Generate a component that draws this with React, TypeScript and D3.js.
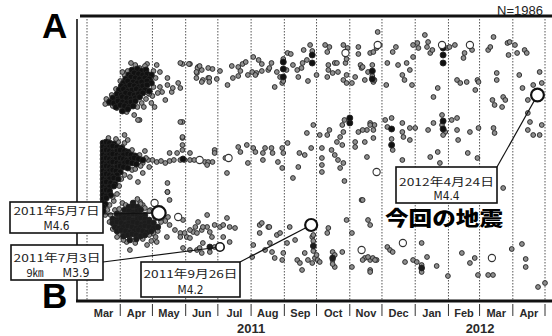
import React from "react";
import * as d3 from "d3";

// ---- data: day offset from 2011-03-01, position along profile B(0) -> A(141) ----
const START = new Date(2011, 2, 1);
const END = new Date(2012, 4, 1);

const topSwarm: number[][] = [
  [42,115.5],[47,116],[51,115],[55,115.5],
  [39,113],[44,114],[48,113.5],[52,113],[56,113.5],[60,113],
  [36,111],[41,112],[45,111.5],[49,111],[54,111.5],[58,111],
  [34,109],[38,110],[43,109.5],[47,109],[51,109.5],[56,110],[60,109],
  [32,107.5],[36,107],[40,108],[44,107.5],[48,107],[52,107.5],[56,108],
  [30,105.5],[34,106],[38,105],[42,105.5],[46,106],[50,105],[54,105.5],[58,105],
  [28,103.5],[32,103],[36,104],[40,103.5],[44,103],[48,103.5],[52,104],
  [24,101.5],[29,101],[33,102],[37,101.5],[41,101],[45,101.5],[49,102],
  [21,99.5],[25,99],[29,100],[33,99.5],[37,99],[41,99.5],[45,100],
  [27,97],[31,98],[35,97.5],[39,97],[43,97.5],
  [33,95],[38,96],
  [183,112],[183,116],[183,119.5],[210,119],[210,123],[266,111],[266,115],[332,119],[332,123],[332,126.5],
];

const topScatter: number[][] = [
  [49,116.5],[56,118.5],[65,118],[68,114.5],[75,111.5],[75,108],[73,100.5],[79,104.5],[80,106.5],[85,109],
  [87,106.5],[63,97],[68,107],[70,104.5],[37,94.5],[49,90.5],[20,99],[24,97.5],[28,96.5],[61,102.5],[59,110.5],[54,117.5],
  [45,118],[38,115],[35,113],[31,110],[27,106],[23,103],[18,101],[17,98.5],[47,97],[51,99],[55,101],[58,103.5],
  [62,107],[64,111.5],[62,115],[57,104],[53,97],[44,93],[41,119],[33,114.5],[29,104],[66,104],[60,99],
  [89,118.5],[96,118.5],[103.5,117],[102.5,114],[107,115.5],[108,110.5],[113,111.5],[89,89.5],[89,81.5],
  [87,119],[95,118.5],[103,116.5],[105,117.5],[102,114.5],[113,116.5],[117,116],[124,115],[102,111.5],[107,109.5],
  [114,111.5],[114,109.5],[121,111],[131,108],[135,117.5],[136,111.5],[141,117],[143,115],[145,118.5],[148,119.5],
  [141,112.5],[150,113],[154,114.5],[155,122],[158,114],[160,120.5],[163,118.5],[163,115],[157,113],[169,115.5],
  [172,119],[170,116.5],[175,107],[177,114.5],[180,112],[182,109],[183,121],[186,115.5],[187,124],[190,123.5],
  [192,118],[196,115.5],[197,112],[200,116.5],[201,119],[202,125.5],[205,120.5],[206,110],[208,128],[214,113],
  [222,128],[224,124.5],[226,127],[225,115.5],[224,112],[225,118],[229,114],[231,119],[233,119],[234,114.5],
  [239,128],[241,119],[243,126.5],[242,113],[239,110.5],[242,109],[247,109],[250,112],[253,127],[255,118],
  [256,116.5],[259,110.5],[264,124],[267,109.5],[270,126.5],[257,117],[262,114.5],[267,124.5],[268,110.5],
  [271,134.5],[273,128],[280,119],[279,108],[285,124.5],[288,127],[290,118],[294,113],[296,110.5],[298,119],
  [301,115.5],[304,128],[304,122],[303,108],[308,129],[309,126.5],[315,133],[317,127],[318,129.5],[320,124],
  [322,125.5],[323,102],[327,106.5],[336,126.5],[338,127],[343,128],[345,110.5],[348,109],[351,121.5],[352,124],
  [354,109.5],[359,125.5],[362,105.5],[364,110.5],[365,109.5],[374,125.5],[376,127],[379,132],[382,114],[382,110.5],
  [388,102],[392,129],[393,123],[394,129.5],[399,128],[401,124],[403,113],[408,125.5],[410,124],[422,114.5],
  [424,109],[411,100.5],[406,106.5],[416,108],[378,100.5],[380,98],[390,100.5],[387,97],
  [183,110],[210,125],[242,121],[253,123.5],[266,118],[266,112.5],
];

const midSwarm: number[][] = [
  [15,79],[18,79.5],[21,79],[25,78.5],
  [15,77],[18,76.5],[21,77],[24,77.5],[28,77],[32,76.5],
  [15,75],[18,75.5],[21,75],[24,74.5],[28,75],[31,75.5],[35,75],[38,74.5],
  [15,73],[18,72.5],[21,73],[24,73.5],[28,73],[31,72.5],[34,73],[38,73.5],[41,73],[45,72.5],
  [15,71],[18,71.5],[21,71],[24,70.5],[27,71],[31,71.5],[34,71],[37,70.5],[41,71],[44,71.5],[48,71],[52,70.5],
  [15,69],[18,68.5],[21,69],[24,69.5],[28,69],[31,68.5],[35,69],[38,69.5],[42,69],[46,68.5],
  [15,67],[18,67.5],[21,67],[24,66.5],[28,67],[31,67.5],[34,67],[38,66.5],
  [15,65],[18,64.5],[21,65],[24,65.5],[27,65],[31,64.5],
  [15,63],[18,63.5],[21,63],[24,62.5],[28,63],
  [15,61],[18,60.5],[21,61],[25,61.5],[29,61],
  [15,59],[18,59.5],[22,59],[26,58.5],
  [15,57],[18,56.5],[21,57],[25,57.5],
  [15,55],[18,55.5],[21,55],
  [15,53],[18,52.5],[22,53],
  [15,51],[18,51.5],[15,49],[17,48.5],[15,47],[15,45],
  [89.5,71],[245,89],[245,91.5],[284,78],[284,86],[332,86],[332,90],
];

const midScatter: number[][] = [
  [35,83],[47.5,90.5],[35,79],[43,73],[37,69],[52,69],[57,70.5],[61,70.5],[65,69.5],[69,70],[73,69],[77,74],[77,70],
  [81,70.5],[84,74],[87,70.5],[91,70.5],[96,70.5],[100,70.5],[89,82],[89,78],[47.5,59.5],[52,64],[75,59],[75,54.5],
  [29,79.5],[33,77],[42,75.5],[49,73],[55,71.5],[50,67.5],[42,65.5],[35,63],[32,61],[30,57.5],[28,53.5],[25,50],
  [21,48],[19,45.5],[17,43],[40,62],[45,66],[38,80.5],[27,81],[20,81.5],[54,75],[58,67],
  [87,89.5],[89,75.5],[96,74],[110,69.5],[113,69.5],[117,69.5],[112,68],[119,75.5],[119,74],[129,71.5],[130.5,64],
  [141,77],[143,74.5],[149,78],[150,69],[155,76.5],[157,74.5],[164,74],[164,70.5],[166,76.5],[172,76.5],[173,74],
  [178,69.5],[182,76.5],[183,74],[182,66.5],[187,79],[192,61.5],[197,67],[198,74],[203,73],[205,84],[209,76.5],
  [217,83],[219,76.5],[219,71.5],[219,68],[219,64.5],[224,83],[226,85.5],[228,75.5],[231,73],[233,79.5],[234,70.5],
  [236,82],[238,78],[238,88],[239,84.5],[239,69],[236,66.5],[240,90.5],[250,79.5],[250,77],[253,84.5],[256,50.5],
  [259,79.5],[261,85.5],[264,89],[267,81.5],[267,85.5],[268,88],[257,85.5],[264,88],[261,72],[278,90.5],[280,87],
  [284,91.5],[285,75.5],[294,89],[294,84.5],[295,82],[301,86.5],[301,80.5],[294,70.5],[306,86.5],[318,85.5],
  [323,89],[331,93],[331,88],[334,84.5],[327,74.5],[320,72],[329,69],[340,90.5],[345,91.5],[345,85.5],[346,80.5],
  [357,84.5],[355,74],[364,71.5],[365,86.5],[379,86.5],[380,84],[411,94],[413,89.5],[411,85.5],[416,83],[422,83],
  [424,88],[388,56.5],[257,50.5],[240,60],[211,88],[284,81],[332,83],
];

const lowSwarm: number[][] = [
  [43,49],[39,47],[43,47.5],[47,47],
  [35,45.5],[39,45],[43,44.5],[47,45],[50,45.5],
  [28,43.5],[32,43],[35,42.5],[39,43],[43,43.5],[47,43],[50,42.5],[54,43],
  [24,41],[28,40.5],[32,41],[35,41.5],[39,41],[43,40.5],[47,41],[50,41.5],[54,41],[58,40.5],
  [24,39],[28,39.5],[32,39],[36,38.5],[39,39],[43,39.5],[47,39],[51,38.5],[54,39],[58,39.5],[62,39],
  [26,37],[30,36.5],[34,37],[38,37.5],[42,37],[46,36.5],[50,37],[54,37.5],[58,37],[62,36.5],[66,37],
  [28,35],[32,35.5],[36,35],[40,34.5],[44,35],[48,35.5],[52,35],[56,34.5],[60,35],
  [34,32.5],[38,33],[42,33.5],[46,33],[50,32.5],[54,33],
  [40,30.5],[46,31],
  [211,27.5],[229,21.5],[312,16.5],[114.5,27],
];

const lowScatter: number[][] = [
  [24,52],[33,49],[49.5,49.5],[52,48],[40,46.5],[59,45.5],[75,54.5],[77,50.5],[75.5,42],[89.5,40.5],[77,38],
  [82,35.5],[87,34],[93,32],[96,31.5],[99,34.5],[102.5,34],[107,35.5],[112,37],[103.5,39.5],[37,29.5],[40,25.5],
  [56,28],[65,29.5],[74.5,32],[102.5,25.5],[108,29],[33.5,34],[70,43],[73,40],
  [26,45.5],[22,43],[21,39.5],[24,36],[30,33],[34,30.5],[52,31],[58,33],[62,34],[66,35],[69,39.5],[64,41.5],
  [58,45],[54,46.5],[50,48.5],[47,51],[36,48],[30,46],[45,29],[28,32],[64,32],[60,30],
  [87,32],[91,34],[96,35.5],[101,37],[108,37],[114.5,34.5],[116.5,32],[124,37],[127,32],[133,37],[133,29.5],
  [138,36.5],[89.5,26.5],[96,25.5],[105,26.5],[107,24],[114.5,24.5],[119,27],[154,22],[155,28],[161,38],[161,34],
  [169,37],[170.5,29],[166,25.5],[172.5,24.5],[175,21.5],[177,33],[180,34],[182,20.5],[183,24],[186.5,29],[189,37],
  [194,30.5],[196,20.5],[198.5,19],[200.5,15.5],[203,24],[206,20.5],[210,19],[210,32],[211,33],[212.5,21.5],
  [214,23],[215,20.5],[217,19.5],[224,34],[225,36.5],[229,24.5],[231,23],[229,20.5],[231,17],[238,24.5],[247,34],
  [247,17],[259,21.5],[264,20.5],[264,15.5],[266.5,21.5],[270,20.5],[112,43],[119,38],[130.5,41.5],[127,38],
  [163,39],[170,37],[242,40.5],[262,40.5],[264,38],[257,20.5],[262,22],[264,14.5],[268.5,20.5],[280,27],
  [282.5,25.5],[285,24.5],[296.5,19.5],[304,20.5],[307.5,19.5],[312,29],[312,18],[317,22],[326,17.5],[336.5,12.5],
  [349.5,24],[357,19],[361.5,21.5],[364.5,13],[374,13],[378.5,13],[396,26],[405.5,28.5],[409,21],[409,17],
  [420.5,7],[427,9],[211,25],[211,30],[229,18.5],[312,14.5],
];

// larger (about M3) events drawn as open circles
const openEvents: number[][] = [
  [105,70.5],[132,71.5],[270,64.5],[63,49],[85,42],[256,25.5],[294.5,29],[377.5,21.5],
  [271,128],[331,128],[357,128],[241,124],
];

// labelled events
const eventDates = ["2011-05-07", "2011-07-03", "2011-09-26", "2012-04-24"];
const eventPos = [44, 27, 38, 103];
const eventMag = [4.6, 3.9, 4.2, 4.4];
const eventLine1 = ["2011年5月7日", "2011年7月3日", "2011年9月26日", "2012年4月24日"];
const eventLine2 = ["M4.6", "M3.9", "M4.2", "M4.4"];
const eventDepth = ["", "9㎞", "", ""];

const yearLabels = ["2011", "2012"];
const totalCount = "N=1986";

// label box layout
const boxes = [
  { x: 10, y: 202, w: 93, h: 31, b1: 214.5, b2: 230, l1: 86, ax: 103, ay: 214 },
  { x: 11, y: 245, w: 92, h: 35, b1: 261.5, b2: 277, l1: 87, ax: 103, ay: 262 },
  { x: 141, y: 262, w: 99, h: 35, b1: 278, b2: 294, l1: 94, ax: 240, ay: 262 },
  { x: 396, y: 167, w: 101, h: 36, b1: 185.5, b2: 199.5, l1: 95, ax: 497, ay: 167 },
];

const dt = (d: number) => new Date(START.getTime() + d * 86400000);
const parse = d3.timeParse("%Y-%m-%d");

export default function App() {
  const x = d3.scaleTime().domain([START, END]).range([87, 545]);
  const y = d3.scaleLinear().domain([0, 141]).range([301, 19]);
  const r = d3.scaleLinear().domain([1.5, 3, 3.9, 4.2, 4.6]).range([2.4, 3.6, 4.2, 6, 6.8]);
  const months = d3.timeMonth.range(START, d3.timeMonth.offset(END, 1));
  const fmt = d3.timeFormat("%b");
  const cjk = "'Noto Sans CJK JP', 'Noto Sans', sans-serif";
  const latin = "'Liberation Sans', Arial, sans-serif";
  const cond = "'DejaVu Sans Condensed', 'DejaVu Sans', sans-serif";

  const dots = (arr: number[][], key: string, fill: string, rad: number) =>
    arr.map(([d, p], i) => (
      <circle key={key + i} cx={x(dt(d))} cy={y(p)} r={rad} fill={fill} stroke="#222" strokeWidth={0.9} />
    ));

  const years = [
    [START, new Date(2012, 0, 1)],
    [new Date(2012, 0, 1), END],
  ];

  return (
    <svg width={552} height={336} style={{ display: "block", position: "absolute", left: 0, top: 0 }}>
      <rect width={552} height={336} fill="#fff" />
      {/* month grid */}
      {months.map((m, i) => (
        <line key={"g" + i} x1={x(m)} x2={x(m)} y1={19} y2={300} stroke="#555" strokeWidth={1} strokeDasharray="1.5,1.5" />
      ))}
      {/* points */}
      {dots(topScatter, "ts", "#8f8f8f", r(1.5))}
      {dots(midScatter, "ms", "#8f8f8f", r(1.5))}
      {dots(lowScatter, "ls", "#8f8f8f", r(1.5))}
      {dots(topSwarm, "tw", "#111", 3)}
      {dots(midSwarm, "mw", "#111", 3)}
      {dots(lowSwarm, "lw", "#1c1c1c", 2.9)}
      {openEvents.map(([d, p], i) => (
        <circle key={"o" + i} cx={x(dt(d))} cy={y(p)} r={r(3)} fill="#fff" stroke="#333" strokeWidth={1.1} />
      ))}
      {/* frame */}
      <line x1={77} x2={77} y1={19} y2={301} stroke="#111" strokeWidth={1.6} />
      <line x1={80} x2={552} y1={16} y2={16} stroke="#111" strokeWidth={3} />
      <line x1={76} x2={552} y1={301} y2={301} stroke="#111" strokeWidth={3} />
      {/* month ticks & labels */}
      {months.slice(1).map((m, i) => (
        <line key={"t" + i} x1={x(m)} x2={x(m)} y1={304} y2={316} stroke="#333" strokeWidth={1} />
      ))}
      {months.slice(0, -1).map((m, i) => (
        <text key={"m" + i} x={(x(m) + x(months[i + 1])) / 2} y={317} textAnchor="middle"
          fontFamily={latin} fontWeight="bold" fontSize={11} fill="#2a2a2a">{fmt(m)}</text>
      ))}
      {years.map(([a, b], i) => (
        <text key={"y" + i} x={(x(a) + x(b)) / 2} y={333} textAnchor="middle"
          fontFamily={latin} fontWeight="bold" fontSize={13} fill="#2a2a2a">{yearLabels[i]}</text>
      ))}
      <text x={543} y={15} textAnchor="end" fontFamily={latin} fontSize={13} fill="#222">{totalCount}</text>
      {/* connectors */}
      {eventDates.map((d, i) => (
        <line key={"c" + i} x1={boxes[i].ax} y1={boxes[i].ay} x2={x(parse(d)!)} y2={y(eventPos[i])} stroke="#111" strokeWidth={1.2} />
      ))}
      {/* labelled events */}
      {eventDates.map((d, i) => (
        <circle key={"e" + i} cx={x(parse(d)!)} cy={y(eventPos[i])} r={r(eventMag[i])} fill="#fff" stroke="#111" strokeWidth={i === 1 ? 1.6 : 2.2} />
      ))}
      {/* boxes */}
      {boxes.map((b, i) => (
        <g key={"b" + i}>
          <rect x={b.x} y={b.y} width={b.w} height={b.h} fill="#fff" stroke="#111" strokeWidth={1.6} />
          <text x={b.x + b.w / 2} y={b.b1} textAnchor="middle" fontFamily={cjk} fontSize={11} fill="#222"
            textLength={b.l1} lengthAdjust="spacingAndGlyphs">{eventLine1[i]}</text>
          {eventDepth[i] ? (
            <>
              <text x={35} y={b.b2} textAnchor="middle" fontFamily={cjk} fontSize={11} fill="#222">{eventDepth[i]}</text>
              <text x={76} y={b.b2} textAnchor="middle" fontFamily={cond} fontSize={11.5} fill="#222"
                textLength={27} lengthAdjust="spacingAndGlyphs">{eventLine2[i]}</text>
            </>
          ) : (
            <text x={b.x + b.w / 2} y={b.b2} textAnchor="middle" fontFamily={cond} fontSize={11.5} fill="#222"
              textLength={26} lengthAdjust="spacingAndGlyphs">{eventLine2[i]}</text>
          )}
        </g>
      ))}
      <text x={444} y={225.5} textAnchor="middle" fontFamily={cjk} fontWeight={900} fontSize={20} fill="#000"
        textLength={118} lengthAdjust="spacingAndGlyphs">今回の地震</text>
      <text x={42} y={38} fontFamily={latin} fontWeight="bold" fontSize={35} fill="#000">A</text>
      <text x={42} y={308} fontFamily={latin} fontWeight="bold" fontSize={35} fill="#000">B</text>
    </svg>
  );
}
